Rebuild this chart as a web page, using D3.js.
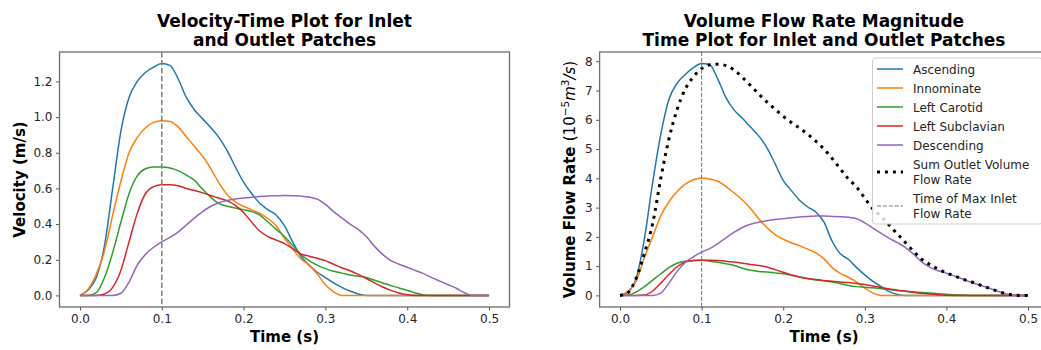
<!DOCTYPE html>
<html>
<head>
<meta charset="utf-8">
<script src="https://cdn.jsdelivr.net/npm/d3@7"></script>
<style>
  html, body { margin: 0; padding: 0; background: #fff; }
  svg { display: block; font-family: "DejaVu Sans", sans-serif; }
</style>
</head>
<body>
<svg id="chart" width="1041" height="350"></svg>
<script>
// Sample times (s)
const times = d3.range(0, 51).map(i => +(i * 0.01).toFixed(2));

// Velocity (m/s) at each sample time
const velAscending = [0,0.03,0.10,0.28,0.60,0.92,1.11,1.20,1.25,1.28,1.30,1.29,1.215,1.11,1.04,0.99,0.94,0.885,0.81,0.72,0.635,0.57,0.515,0.48,0.45,0.39,0.30,0.22,0.17,0.13,0.10,0.07,0.045,0.025,0.008,0,0,0,0,0,0,0,0,0,0,0,0,0,0,0,0];
const velInnominate = [0,0.035,0.12,0.25,0.45,0.64,0.80,0.885,0.94,0.97,0.98,0.975,0.945,0.89,0.835,0.78,0.71,0.63,0.565,0.525,0.50,0.48,0.46,0.43,0.39,0.32,0.26,0.205,0.17,0.12,0.06,0.02,0,0,0,0,0,0,0,0,0,0,0,0,0,0,0,0,0,0,0];
const velCarotid = [0,0,0.015,0.10,0.24,0.41,0.57,0.67,0.71,0.72,0.72,0.715,0.70,0.675,0.645,0.595,0.55,0.515,0.50,0.49,0.48,0.47,0.45,0.41,0.37,0.33,0.28,0.23,0.195,0.17,0.15,0.135,0.125,0.115,0.108,0.10,0.085,0.07,0.055,0.042,0.028,0.014,0.003,0,0,0,0,0,0,0,0];
const velSubclavian = [0,0,0,0.008,0.045,0.14,0.30,0.46,0.57,0.61,0.62,0.62,0.615,0.60,0.588,0.575,0.56,0.545,0.53,0.505,0.465,0.41,0.36,0.33,0.31,0.29,0.262,0.233,0.22,0.208,0.195,0.175,0.155,0.138,0.118,0.095,0.07,0.047,0.028,0.013,0.004,0,0,0,0,0,0,0,0,0,0];
const velDescending = [0,0,0,0,0,0.012,0.075,0.17,0.23,0.27,0.30,0.325,0.355,0.395,0.435,0.47,0.50,0.52,0.532,0.54,0.546,0.551,0.555,0.558,0.559,0.56,0.559,0.557,0.552,0.54,0.51,0.47,0.435,0.40,0.37,0.33,0.275,0.23,0.195,0.175,0.158,0.14,0.122,0.10,0.08,0.06,0.04,0.015,0,0,0];

// Volume flow rate (1e-5 m^3/s) at each sample time
const flowAscending = [0,0.12,0.6,1.95,3.85,5.5,6.7,7.25,7.55,7.78,7.92,7.88,7.38,6.75,6.33,6.05,5.75,5.45,5.05,4.5,3.93,3.58,3.25,3.02,2.85,2.5,1.85,1.42,1.23,0.95,0.7,0.48,0.3,0.13,0.03,0,0,0,0,0,0,0,0,0,0,0,0,0,0,0,0];
const flowInnominate = [0,0.15,0.5,1.3,2.0,2.72,3.2,3.55,3.8,3.95,4.01,3.98,3.9,3.72,3.5,3.26,2.97,2.62,2.32,2.08,1.92,1.8,1.7,1.58,1.45,1.25,0.95,0.75,0.62,0.45,0.25,0.08,0,0,0,0,0,0,0,0,0,0,0,0,0,0,0,0,0,0,0];
const flowCarotid = [0,0.01,0.12,0.3,0.52,0.74,0.95,1.1,1.17,1.19,1.2,1.17,1.13,1.08,1.02,0.93,0.86,0.82,0.8,0.77,0.74,0.69,0.63,0.57,0.53,0.5,0.46,0.4,0.34,0.3,0.28,0.26,0.23,0.2,0.17,0.14,0.12,0.1,0.08,0.06,0.04,0.02,0.01,0,0,0,0,0,0,0,0];
const flowSubclavian = [0,0,0,0.01,0.15,0.42,0.72,0.98,1.14,1.19,1.2,1.2,1.19,1.17,1.14,1.1,1.06,1.02,0.97,0.88,0.79,0.7,0.63,0.58,0.54,0.51,0.48,0.46,0.44,0.41,0.37,0.32,0.27,0.22,0.18,0.14,0.105,0.07,0.045,0.02,0.005,0,0,0,0,0,0,0,0,0,0];
const flowDescending = [0,0,0,0,0,0.08,0.42,0.82,1.13,1.32,1.48,1.6,1.77,1.97,2.16,2.32,2.43,2.5,2.55,2.59,2.62,2.65,2.68,2.7,2.71,2.71,2.7,2.69,2.67,2.62,2.48,2.3,2.12,1.95,1.8,1.63,1.4,1.14,0.96,0.84,0.76,0.66,0.56,0.45,0.36,0.27,0.17,0.08,0.01,0,0];
const flowOutletSum = [0,0.1,0.6,1.45,2.45,4.0,5.35,6.35,7.05,7.47,7.75,7.88,7.9,7.85,7.7,7.45,7.17,6.88,6.61,6.36,6.12,5.91,5.72,5.51,5.27,5.0,4.68,4.32,3.98,3.7,3.32,2.95,2.7,2.4,2.1,1.8,1.5,1.23,1.05,0.9,0.77,0.66,0.56,0.47,0.37,0.27,0.17,0.08,0.02,0,0];

const seriesNames = ["Ascending", "Innominate", "Left Carotid", "Left Subclavian", "Descending"];
const seriesColors = ["#1f77b4", "#ff7f0e", "#2ca02c", "#d62728", "#9467bd"];
const xTicks = [0, 0.1, 0.2, 0.3, 0.4, 0.5];
const velTicks = [0, 0.2, 0.4, 0.6, 0.8, 1.0, 1.2];
const flowTicks = [0, 1, 2, 3, 4, 5, 6, 7, 8];
const peakInletTime = 0.1;

const svg = d3.select("#chart");
const plotTop = 52, plotBottom = 307;

function panel(opts) {
  const x = d3.scaleLinear().domain([-0.025, 0.525]).range(opts.xRange);
  const y = d3.scaleLinear().domain(opts.yDomain).range([plotBottom, plotTop]);
  const g = svg.append("g");

  const clipId = opts.id + "-clip";
  g.append("clipPath").attr("id", clipId)
    .append("rect").attr("x", opts.xRange[0]).attr("y", plotTop)
    .attr("width", opts.xRange[1] - opts.xRange[0]).attr("height", plotBottom - plotTop);

  const plot = g.append("g").attr("clip-path", `url(#${clipId})`);
  const line = d3.line().x((d, i) => x(times[i])).y(d => y(d)).curve(d3.curveMonotoneX);

  opts.series.forEach((vals, k) => {
    plot.append("path").datum(vals)
      .attr("d", line).attr("fill", "none")
      .attr("stroke", seriesColors[k]).attr("stroke-width", 1.5)
      .attr("stroke-linejoin", "round");
  });

  if (opts.sum) {
    plot.append("path").datum(opts.sum)
      .attr("d", line).attr("fill", "none")
      .attr("stroke", "#000").attr("stroke-width", 3)
      .attr("stroke-dasharray", "3,4.95");
  }

  plot.append("line")
    .attr("x1", x(peakInletTime)).attr("x2", x(peakInletTime))
    .attr("y1", plotTop).attr("y2", plotBottom)
    .attr("stroke", "#808080").attr("stroke-width", opts.vlineWidth)
    .attr("stroke-dasharray", `${3.7 * opts.vlineWidth},${1.6 * opts.vlineWidth}`);

  // axes
  const xAxis = d3.axisBottom(x).tickValues(xTicks).tickFormat(d3.format(".1f")).tickSizeOuter(0).tickSize(3.5).tickPadding(3.5);
  const yAxis = d3.axisLeft(y).tickValues(opts.yTicks).tickFormat(opts.yFormat).tickSizeOuter(0).tickSize(3.5).tickPadding(3.5);
  const gx = g.append("g").attr("transform", `translate(0,${plotBottom})`).call(xAxis);
  const gy = g.append("g").attr("transform", `translate(${opts.xRange[0]},0)`).call(yAxis);
  [gx, gy].forEach(a => {
    a.select(".domain").remove();
    a.selectAll(".tick line").attr("stroke", "#555").attr("stroke-width", 1);
    a.selectAll(".tick text").attr("fill", "#262626").style("font-size", "12px")
      .style("font-family", "DejaVu Sans");
  });

  // frame
  g.append("rect").attr("x", opts.xRange[0]).attr("y", plotTop)
    .attr("width", opts.xRange[1] - opts.xRange[0]).attr("height", plotBottom - plotTop)
    .attr("fill", "none").attr("stroke", "#6e6e6e").attr("stroke-width", 1.3);

  const cx = (opts.xRange[0] + opts.xRange[1]) / 2;
  const title = g.append("text").attr("text-anchor", "middle")
    .style("font-size", "17px").style("font-weight", "bold").attr("fill", "#000");
  opts.title.forEach((t, i) => {
    title.append("tspan").attr("x", cx).attr("y", 27 + i * 18.5).text(t);
  });

  g.append("text").attr("x", cx).attr("y", 342).attr("text-anchor", "middle")
    .style("font-size", "15px").style("font-weight", "bold").text("Time (s)");

  return { x, y, g };
}

const left = panel({
  id: "vel", xRange: [59.5, 509.5], yDomain: [-0.065, 1.365],
  yTicks: velTicks, yFormat: d3.format(".1f"),
  series: [velAscending, velInnominate, velCarotid, velSubclavian, velDescending],
  vlineWidth: 1.5,
  title: ["Velocity-Time Plot for Inlet", "and Outlet Patches"]
});
left.g.append("text")
  .attr("transform", `translate(25,${(plotTop + plotBottom) / 2}) rotate(-90)`)
  .attr("text-anchor", "middle")
  .style("font-size", "15px").style("font-weight", "bold").text("Velocity (m/s)");

const right = panel({
  id: "flow", xRange: [599.6, 1048.4], yDomain: [-0.396, 8.316],
  yTicks: flowTicks, yFormat: d3.format("d"),
  series: [flowAscending, flowInnominate, flowCarotid, flowSubclavian, flowDescending],
  sum: flowOutletSum,
  vlineWidth: 1.1,
  title: ["Volume Flow Rate Magnitude", "Time Plot for Inlet and Outlet Patches"]
});

const ylab = right.g.append("text")
  .attr("transform", `translate(575,${(plotTop + plotBottom) / 2}) rotate(-90)`)
  .attr("text-anchor", "middle").style("font-size", "15px");
ylab.append("tspan").style("font-weight", "bold").text("Volume Flow Rate ");
ylab.append("tspan").text("(10");
ylab.append("tspan").attr("dy", -6).style("font-size", "10.5px").text("\u22125");
ylab.append("tspan").attr("dy", 6).style("font-style", "italic").text("m");
ylab.append("tspan").attr("dy", -6).style("font-size", "10.5px").text("3");
ylab.append("tspan").attr("dy", 6).style("font-style", "italic").text("/s");
ylab.append("tspan").text(")");

// legend
const legendEntries = seriesNames.map((n, i) => ({ lines: [n], color: seriesColors[i], kind: "solid" }))
  .concat([
    { lines: ["Sum Outlet Volume", "Flow Rate"], color: "#000", kind: "dot" },
    { lines: ["Time of Max Inlet", "Flow Rate"], color: "#808080", kind: "dash" }
  ]);
const lg = svg.append("g");
lg.append("rect").attr("x", 872.5).attr("y", 58).attr("width", 170).attr("height", 166)
  .attr("rx", 3).attr("fill", "#fff").attr("fill-opacity", 0.8)
  .attr("stroke", "#d0d0d0").attr("stroke-width", 1);
let rowY = 69;
legendEntries.forEach(e => {
  const n = e.lines.length;
  const hy = rowY + (n - 1) * 7.5 + (n > 1 ? 0.5 : 0);
  const h = lg.append("line").attr("x1", 877).attr("x2", 903).attr("y1", hy).attr("y2", hy)
    .attr("stroke", e.color);
  if (e.kind === "solid") h.attr("stroke-width", 1.5);
  if (e.kind === "dot") h.attr("stroke-width", 3).attr("stroke-dasharray", "3,4.95");
  if (e.kind === "dash") h.attr("stroke-width", 1.1).attr("stroke-dasharray", "4.1,1.8");
  e.lines.forEach((t, i) => {
    lg.append("text").attr("x", 913).attr("y", rowY + i * 15 + 4.5)
      .style("font-size", "12px").attr("fill", "#262626").text(t);
  });
  rowY += n > 1 ? 34 : 19;
});
</script>
</body>
</html>
